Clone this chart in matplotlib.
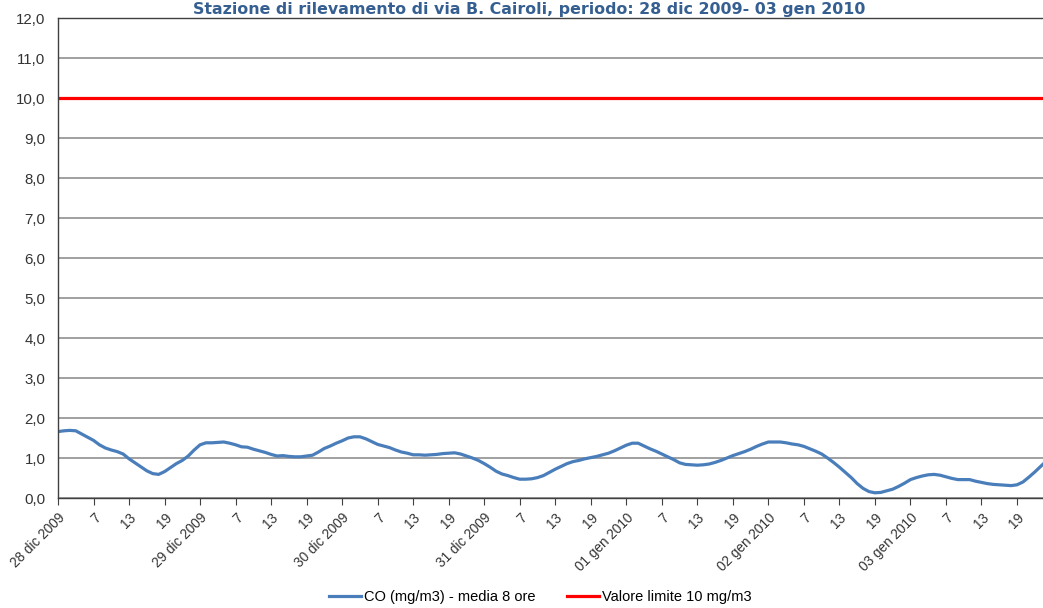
import numpy as np
import matplotlib
matplotlib.use("Agg")
import matplotlib.pyplot as plt

plt.rcParams['font.family'] = ['Liberation Sans', 'DejaVu Sans']

# CO hourly values (mg/m3) - 8 hour moving average, 28 dic 2009 -> 03 gen 2010
co = [1.66, 1.68, 1.69, 1.68, 1.60, 1.52, 1.44, 1.33, 1.25, 1.20,
      1.16, 1.10, 0.98, 0.88, 0.78, 0.68, 0.61, 0.59, 0.66, 0.76,
      0.86, 0.94, 1.05, 1.20, 1.33, 1.38, 1.38, 1.39, 1.40, 1.37,
      1.33, 1.28, 1.27, 1.22, 1.18, 1.14, 1.09, 1.05, 1.06, 1.04,
      1.03, 1.03, 1.05, 1.07, 1.15, 1.24, 1.30, 1.37, 1.43, 1.50,
      1.53, 1.53, 1.48, 1.41, 1.34, 1.30, 1.26, 1.20, 1.15, 1.12,
      1.08, 1.08, 1.07, 1.08, 1.09, 1.11, 1.12, 1.13, 1.10, 1.05,
      1.00, 0.94, 0.86, 0.77, 0.67, 0.60, 0.56, 0.51, 0.47, 0.47,
      0.48, 0.51, 0.56, 0.64, 0.72, 0.79, 0.86, 0.91, 0.94, 0.98,
      1.01, 1.04, 1.08, 1.12, 1.18, 1.25, 1.32, 1.37, 1.37, 1.30,
      1.23, 1.17, 1.10, 1.03, 0.96, 0.88, 0.84, 0.83, 0.82, 0.83,
      0.85, 0.89, 0.94, 1.00, 1.06, 1.11, 1.16, 1.22, 1.29, 1.35,
      1.40, 1.40, 1.40, 1.38, 1.35, 1.33, 1.29, 1.23, 1.17, 1.10,
      1.00, 0.89, 0.77, 0.64, 0.51, 0.36, 0.24, 0.16, 0.13, 0.14,
      0.18, 0.22, 0.29, 0.37, 0.46, 0.51, 0.55, 0.58, 0.59, 0.57,
      0.53, 0.49, 0.46, 0.46, 0.46, 0.42, 0.39, 0.36, 0.34, 0.33,
      0.32, 0.31, 0.33, 0.40, 0.52, 0.65, 0.79, 0.93]
limit = 10.0

days = ["28 dic 2009", "29 dic 2009", "30 dic 2009", "31 dic 2009",
        "01 gen 2010", "02 gen 2010", "03 gen 2010"]
hour_labels = ["7", "13", "19"]

tick_labels = []
for d in days:
    tick_labels += [d] + hour_labels

hours = np.arange(len(co))

fig = plt.figure(figsize=(10.43, 6.08), dpi=100)
ax = fig.add_axes([58 / 1043, 110 / 608, 988.6 / 1043, 480 / 608])

ax.plot(hours, co, color="#4A7EBB", lw=2.3, label="CO (mg/m3) - media 8 ore")
ax.plot(hours, [limit] * len(hours), color="#FF0000", lw=2.3,
        label="Valore limite 10 mg/m3")

ax.set_xlim(0, len(co) - 1)
ax.set_ylim(0, 12)
ax.set_yticks(np.arange(0, 13, 1))
ax.set_yticklabels([f"{v:.1f}".replace(".", ",") for v in np.arange(0, 13, 1)])
ax.yaxis.grid(True, color="#868686", lw=1.1)
ax.set_axisbelow(True)

ax.set_xticks(np.arange(0, len(co), 6))
ax.set_xticklabels(tick_labels, rotation=45, ha="right", rotation_mode="anchor")
ax.tick_params(axis="x", length=5, color="#404040", labelsize=9.8, pad=4,
               labelcolor="#333333")
ax.tick_params(axis="y", length=0, labelsize=10.8, pad=9, labelcolor="#333333")

for s in ["left", "bottom", "top"]:
    ax.spines[s].set_color("#404040")
    ax.spines[s].set_linewidth(1.0)
ax.spines["right"].set_visible(False)

fig.text(0.507, 0.985, "Stazione di rilevamento di via B. Cairoli, periodo: 28 dic 2009- 03 gen 2010",
         ha="center", va="center", fontsize=11.4, fontweight="bold",
         color="#365F91", family=["DejaVu Sans"])

fig.legend(loc="lower center", bbox_to_anchor=(0.518, -0.015), ncol=2,
           frameon=False, fontsize=10.5, handlelength=2.2, columnspacing=2.2,
           handletextpad=0.15)

fig.savefig("out.png", dpi=100)
